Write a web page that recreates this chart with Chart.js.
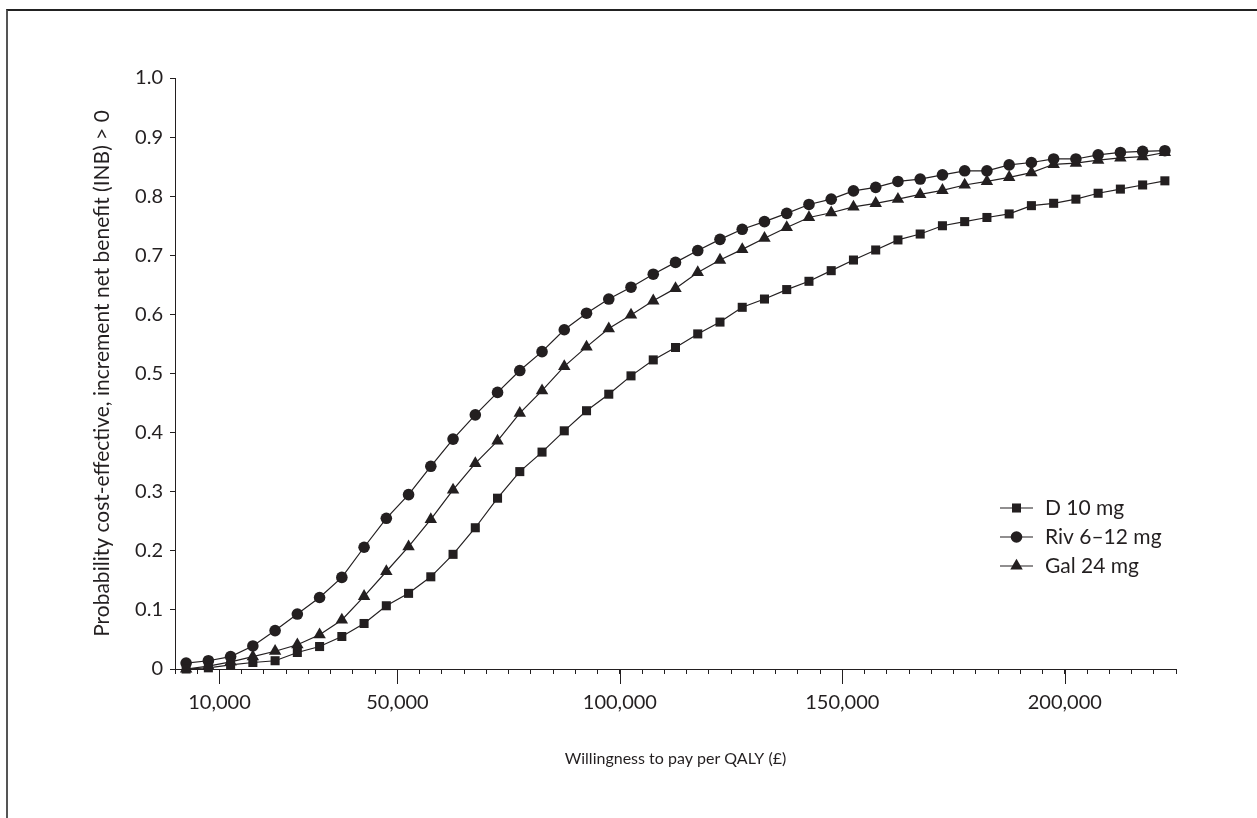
<!DOCTYPE html>
<html>
<head>
<meta charset="utf-8">
<script src="https://cdn.jsdelivr.net/npm/chart.js@4.4.1/dist/chart.umd.min.js"></script>
<style>
  body { margin: 0; background: #fff; }
  #marco { position: absolute; left: 6px; top: 9px; width: 1251px; height: 809px; border-top: 2px solid #222; border-left: 2px solid #555; box-sizing: border-box; }
  #wrap { position: absolute; left: 0; top: 0; width: 1257px; height: 818px; }
</style>
</head>
<body>
<div id="marco"></div>
<div id="wrap"><canvas id="grafica" width="1257" height="818"></canvas></div>
<script>
//----------------------------------------------- DATOS ---------------------------------------------------
// disposicion a pagar por AVAC (puntos centrados entre marcas de 5000)
let wtp = [2500, 7500, 12500, 17500, 22500, 27500, 32500, 37500, 42500, 47500,
  52500, 57500, 62500, 67500, 72500, 77500, 82500, 87500, 92500, 97500,
  102500, 107500, 112500, 117500, 122500, 127500, 132500, 137500, 142500, 147500,
  152500, 157500, 162500, 167500, 172500, 177500, 182500, 187500, 192500, 197500,
  202500, 207500, 212500, 217500, 222500]

let d10 = [0.000, 0.002, 0.007, 0.011, 0.014, 0.028, 0.038, 0.055, 0.077, 0.107,
  0.128, 0.156, 0.194, 0.239, 0.289, 0.334, 0.367, 0.403, 0.437, 0.465,
  0.496, 0.523, 0.544, 0.567, 0.587, 0.612, 0.626, 0.642, 0.656, 0.674,
  0.692, 0.709, 0.726, 0.736, 0.750, 0.757, 0.764, 0.770, 0.784, 0.788,
  0.795, 0.805, 0.812, 0.819, 0.826]

let riv = [0.010, 0.014, 0.021, 0.039, 0.065, 0.093, 0.121, 0.155, 0.206, 0.255,
  0.295, 0.343, 0.389, 0.430, 0.468, 0.505, 0.537, 0.574, 0.602, 0.626,
  0.646, 0.668, 0.688, 0.708, 0.727, 0.744, 0.757, 0.771, 0.786, 0.795,
  0.809, 0.815, 0.825, 0.829, 0.836, 0.843, 0.843, 0.853, 0.857, 0.863,
  0.863, 0.870, 0.874, 0.876, 0.877]

let gal = [0.000, 0.005, 0.012, 0.021, 0.030, 0.041, 0.058, 0.083, 0.123, 0.165,
  0.207, 0.253, 0.303, 0.348, 0.386, 0.433, 0.471, 0.512, 0.545, 0.576,
  0.599, 0.623, 0.644, 0.671, 0.692, 0.710, 0.729, 0.747, 0.764, 0.772,
  0.782, 0.788, 0.795, 0.803, 0.810, 0.819, 0.825, 0.832, 0.840, 0.854,
  0.856, 0.861, 0.865, 0.867, 0.874]

let nombres = ['D 10 mg', 'Riv 6\u201312 mg', 'Gal 24 mg']
let ticksMayores = [10000, 50000, 100000, 150000, 200000]

const negro = '#231f20'
const fuente = 'Lato, "DejaVu Sans", sans-serif'

function serie(nombre, valores, estilo, radio) {
  return {
    label: nombre,
    data: wtp.map((x, i) => ({ x: x, y: valores[i] })),
    borderColor: negro,
    backgroundColor: negro,
    borderWidth: 1.2,
    pointStyle: estilo,
    pointRadius: radio,
    pointHoverRadius: radio,
    pointBorderWidth: 0,
    tension: 0,
    clip: false
  }
}

// marcas largas del eje x y leyenda con linea + marcador
const extras = {
  id: 'extras',
  afterDraw(chart) {
    const ctx = chart.ctx
    const ejeX = chart.scales.x
    const base = chart.chartArea.bottom
    ctx.save()
    ctx.strokeStyle = negro
    ctx.lineWidth = 1
    ticksMayores.forEach(v => {
      let px = Math.round(ejeX.getPixelForValue(v)) + 0.5
      ctx.beginPath()
      ctx.moveTo(px, base)
      ctx.lineTo(px, base + 15)
      ctx.stroke()
    })

    // leyenda
    let x0 = 1000, y0 = 508
    chart.data.datasets.forEach((ds, i) => {
      let y = y0 + i * 29
      ctx.strokeStyle = negro
      ctx.lineWidth = 1.2
      ctx.beginPath()
      ctx.moveTo(x0, y)
      ctx.lineTo(x0 + 33, y)
      ctx.stroke()
      ctx.fillStyle = negro
      Chart.helpers.drawPoint(ctx, { pointStyle: ds.pointStyle, radius: ds.pointRadius, borderWidth: 0, rotation: 0 }, x0 + 16.5, y)
      ctx.font = '21px ' + fuente
      ctx.textBaseline = 'middle'
      ctx.textAlign = 'left'
      ctx.fillText(ds.label, x0 + 45, y)
    })
    ctx.restore()
  }
}

const canvas = document.getElementById('grafica')
const ctx = canvas.getContext('2d')

const config = {
  type: 'line',
  data: {
    datasets: [
      serie(nombres[0], d10, 'rect', 6.4),
      serie(nombres[1], riv, 'circle', 5.8),
      serie(nombres[2], gal, 'triangle', 7.2)
    ]
  },
  options: {
    responsive: false,
    animation: false,
    events: [],
    layout: { padding: { left: 86, top: 78, right: 81, bottom: 46 } },
    plugins: {
      legend: { display: false },
      tooltip: { enabled: false }
    },
    scales: {
      x: {
        type: 'linear',
        min: 0,
        max: 225000,
        afterFit: (scale) => { scale.height = 103 },
        border: { display: true, color: negro, width: 1 },
        grid: { drawOnChartArea: false, drawTicks: true, tickLength: 5, color: negro },
        ticks: {
          stepSize: 5000,
          autoSkip: false,
          maxRotation: 0,
          padding: 17,
          color: negro,
          font: { family: fuente, size: 20 },
          callback: (v) => ticksMayores.includes(v) ? v.toLocaleString('en-US') : ''
        },
        title: {
          display: true,
          text: 'Willingness to pay per QALY (\u00a3)',
          color: negro,
          font: { family: fuente, size: 16 },
          padding: { top: 4, bottom: 4 }
        }
      },
      y: {
        min: 0,
        max: 1,
        afterFit: (scale) => { scale.width = 89 },
        border: { display: true, color: negro, width: 1 },
        grid: { drawOnChartArea: false, drawTicks: true, tickLength: 5, color: negro },
        ticks: {
          stepSize: 0.1,
          padding: 7,
          color: negro,
          font: { family: fuente, size: 20 },
          callback: (v) => v === 0 ? '0' : v.toFixed(1)
        },
        title: {
          display: true,
          text: 'Probability cost-effective, increment net benefit (INB) > 0',
          color: negro,
          font: { family: fuente, size: 21 },
          padding: { top: 4, bottom: 4 }
        }
      }
    }
  },
  plugins: [extras]
}

const chart = new Chart(ctx, config)
</script>
</body>
</html>
